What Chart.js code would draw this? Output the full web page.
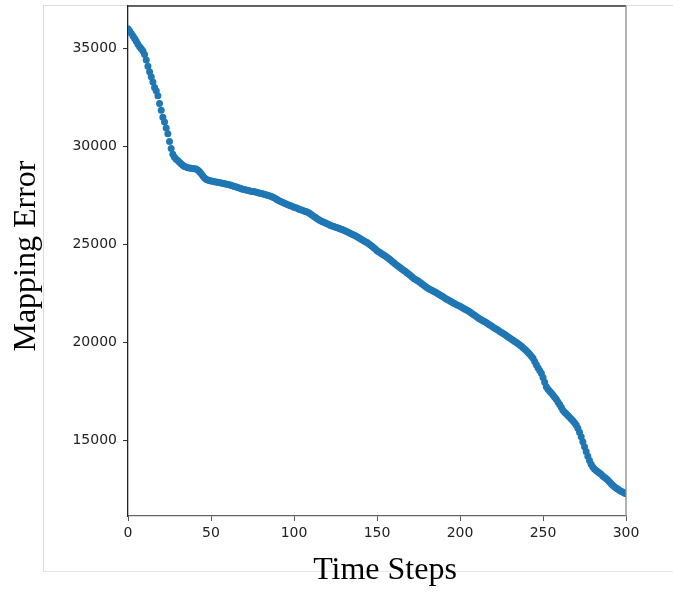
<!DOCTYPE html>
<html>
<head>
<meta charset="utf-8">
<script src="https://cdn.jsdelivr.net/npm/chart.js@4.4.1/dist/chart.umd.min.js"></script>
<style>
  html, body { margin: 0; padding: 0; background: #fff; }
  #wrap { position: relative; width: 673px; height: 593px; }
  #frame { position: absolute; left: 43px; top: 5px; width: 640px; height: 565px;
           border-left: 1px solid #ddd; border-top: 1px solid #ddd; border-bottom: 1px solid #e6e6e6; }
  canvas { position: absolute; left: 0; top: 0; }
</style>
</head>
<body>
<div id="wrap">
  <div id="frame"></div>
  <canvas id="chart" width="673" height="593"></canvas>
</div>
<script>
// time steps 0..300
const steps = [];
for (let i = 0; i <= 300; i++) steps.push(i);

// mapping error per step
const mappingError = [
  36020, 35900, 35780, 35650, 35520, 35380, 35230, 35100, 35000, 34880,
  34700, 34420, 34100, 33820, 33560, 33300, 33020, 32850, 32600, 32200,
  31850, 31500, 31250, 30950, 30650, 30250, 29900, 29600, 29450, 29350,
  29280, 29200, 29120, 29040, 28980, 28950, 28920, 28900, 28890, 28880,
  28870, 28850, 28800, 28720, 28620, 28500, 28400, 28330, 28290, 28260,
  28240, 28220, 28200, 28190, 28170, 28160, 28140, 28120, 28100, 28080,
  28060, 28040, 28020, 27990, 27960, 27940, 27910, 27880, 27850, 27820,
  27800, 27780, 27760, 27740, 27720, 27700, 27690, 27670, 27650, 27620,
  27600, 27580, 27560, 27540, 27510, 27490, 27460, 27420, 27380, 27330,
  27280, 27230, 27190, 27150, 27110, 27080, 27040, 27000, 26970, 26940,
  26900, 26870, 26840, 26800, 26770, 26740, 26710, 26680, 26650, 26600,
  26550, 26490, 26430, 26370, 26310, 26260, 26210, 26170, 26130, 26090,
  26050, 26010, 25970, 25940, 25910, 25880, 25850, 25820, 25790, 25760,
  25720, 25680, 25640, 25600, 25560, 25520, 25480, 25440, 25390, 25340,
  25290, 25240, 25190, 25140, 25090, 25030, 24970, 24900, 24830, 24760,
  24680, 24620, 24570, 24510, 24460, 24400, 24340, 24280, 24210, 24140,
  24070, 24000, 23930, 23870, 23800, 23740, 23680, 23620, 23550, 23480,
  23420, 23340, 23270, 23220, 23160, 23110, 23050, 22990, 22920, 22860,
  22800, 22750, 22700, 22660, 22610, 22560, 22510, 22460, 22410, 22360,
  22310, 22250, 22200, 22160, 22110, 22060, 22010, 21970, 21920, 21880,
  21840, 21790, 21740, 21690, 21640, 21590, 21540, 21480, 21420, 21360,
  21300, 21240, 21190, 21140, 21090, 21040, 20990, 20930, 20880, 20830,
  20770, 20720, 20660, 20610, 20550, 20500, 20440, 20390, 20330, 20270,
  20210, 20150, 20100, 20040, 19980, 19920, 19860, 19790, 19720, 19640,
  19560, 19470, 19380, 19280, 19180, 19020, 18850, 18700, 18560, 18420,
  18200, 17950, 17720, 17600, 17500, 17400, 17300, 17190, 17080, 16950,
  16820, 16680, 16530, 16420, 16340, 16250, 16170, 16080, 15990, 15890,
  15770, 15600, 15400, 15170, 14920, 14660, 14410, 14170, 13950, 13760,
  13620, 13520, 13450, 13380, 13320, 13250, 13170, 13100, 13030, 12960,
  12870, 12780, 12690, 12610, 12550, 12500, 12440, 12390, 12340, 12300,
  12260
];

const xTicks = [0, 50, 100, 150, 200, 250, 300];
const yTicks = [15000, 20000, 25000, 30000, 35000];
const xTitle = 'Time Steps';
const yTitle = 'Mapping Error';

const points = steps.map((s, i) => ({ x: s, y: mappingError[i] }));

// box round the plot area + the two serif axis titles
const decor = {
  id: 'decor',
  afterDraw(chart) {
    const a = chart.chartArea, ctx = chart.ctx;
    ctx.save();
    ctx.lineWidth = 1.3;
    ctx.strokeStyle = '#333';
    ctx.beginPath(); ctx.moveTo(a.left, a.top); ctx.lineTo(a.right, a.top); ctx.stroke();
    ctx.strokeStyle = '#888';
    ctx.beginPath(); ctx.moveTo(a.right, a.top); ctx.lineTo(a.right, a.bottom); ctx.stroke();

    ctx.fillStyle = '#000';
    ctx.font = '32px "Liberation Serif"';
    ctx.textAlign = 'center';
    ctx.textBaseline = 'alphabetic';
    ctx.fillText(xTitle, 385, 579);
    ctx.translate(35, 256);
    ctx.rotate(-Math.PI / 2);
    ctx.fillText(yTitle, 0, 0);
    ctx.restore();
  }
};

new Chart(document.getElementById('chart'), {
  type: 'scatter',
  data: {
    datasets: [{
      data: points,
      backgroundColor: '#1f77b4',
      borderColor: '#1f77b4',
      pointRadius: 3.5,
      pointBorderWidth: 0,
      showLine: false
    }]
  },
  options: {
    responsive: false,
    animation: false,
    layout: { padding: { left: 0, right: 47, top: 6, bottom: 0 } },
    plugins: { legend: { display: false }, tooltip: { enabled: false } },
    scales: {
      x: {
        type: 'linear',
        min: 0, max: 300,
        afterBuildTicks: ax => { ax.ticks = xTicks.map(v => ({ value: v })); },
        afterFit: ax => { ax.height = 77; },
        grid: { drawOnChartArea: false, tickLength: 5, color: '#555' },
        border: { display: true, color: '#666', width: 1.3 },
        ticks: { color: '#222', font: { family: 'DejaVu Sans', size: 14 }, padding: 4, maxRotation: 0 }
      },
      y: {
        type: 'linear',
        min: 11120, max: 37180,
        afterBuildTicks: ax => { ax.ticks = yTicks.map(v => ({ value: v })); },
        afterFit: ax => { ax.width = 128; ax.paddingTop = 0; ax.paddingBottom = 0; },
        grid: { drawOnChartArea: false, tickLength: 5, color: '#333' },
        border: { display: true, color: '#222', width: 1.3 },
        ticks: {
          color: '#222', font: { family: 'DejaVu Sans', size: 14 }, padding: 6,
          callback: v => String(v)
        }
      }
    }
  },
  plugins: [decor]
});
</script>
</body>
</html>
